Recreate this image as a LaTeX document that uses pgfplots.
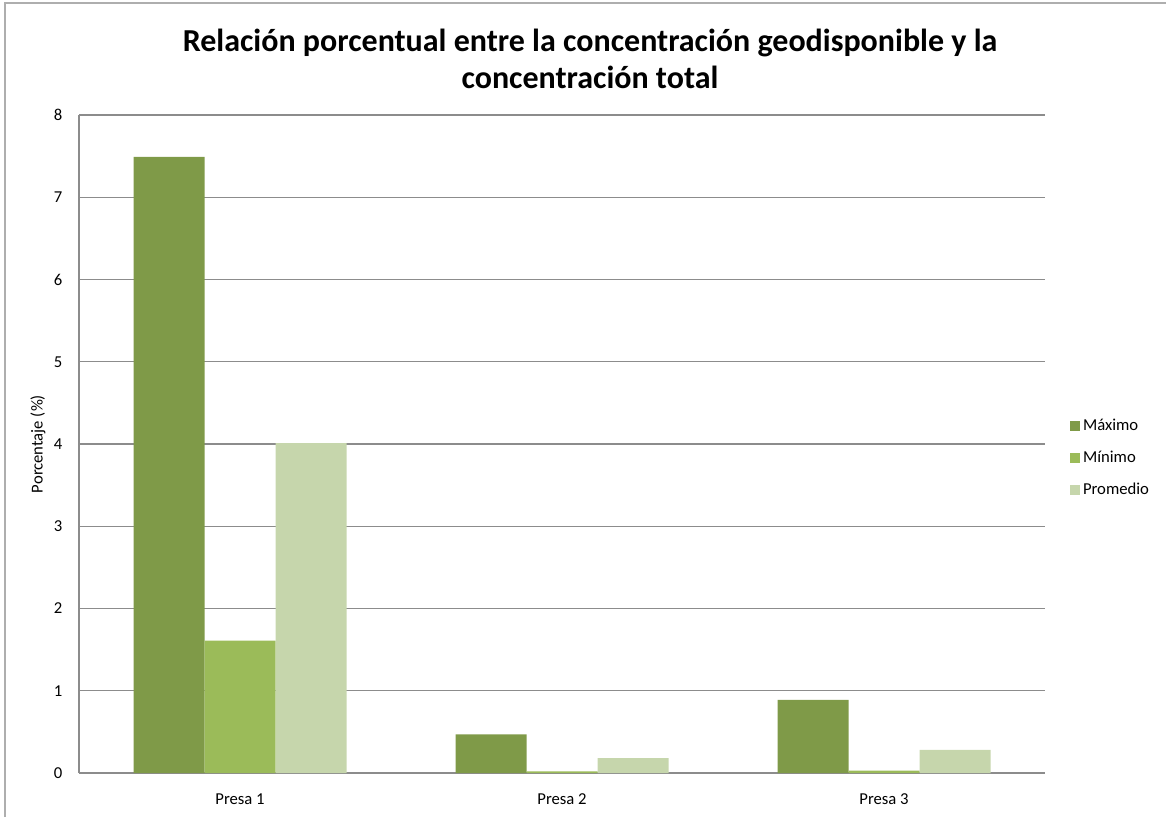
\documentclass[border=0pt]{standalone}
\usepackage{pgfplots}
\pgfplotsset{compat=1.18}
\usepackage{fontspec}
\setmainfont{Carlito}
\definecolor{cmax}{HTML}{7F9A48}
\definecolor{cmin}{HTML}{9BBB59}
\definecolor{cprom}{HTML}{C6D6AC}
\definecolor{cgrid}{HTML}{8C8C8C}

\begin{document}
\begin{tikzpicture}[x=0.75pt,y=0.75pt]
\useasboundingbox (0,0) rectangle (1166,817);
\draw[cgrid!70, line width=1.5pt] (5,0) -- (5,814) -- (1166,814);
\node[font=\bfseries\fontsize{24}{28}\selectfont, align=center, anchor=north] at (590,793)
  {Relación porcentual entre la concentración geodisponible y la\\concentración total};
\begin{axis}[
  at={(59.25pt,33pt)}, anchor=south west,
  scale only axis, width=724.5pt, height=493.5pt,
  ybar=0pt, bar width=53.25pt,
  xmin=-0.5, xmax=2.5, ymin=0, ymax=8,
  xtick={0,1,2}, xticklabels={Presa 1,Presa 2,Presa 3},
  ytick={0,...,8},
  axis lines*=left,
  axis line style={-, cgrid, line width=0.9pt},
  ymajorgrids, grid style={cgrid, line width=0.8pt},
  major tick length=0pt,
  tick label style={font=\fontsize{12.5}{14}\selectfont},
  yticklabel style={xshift=-9pt},
  xticklabel style={yshift=-12pt},
  /pgf/number format/assume math mode=true,
  ylabel={Porcentaje (\%)},
  ylabel style={font=\fontsize{12.5}{14}\selectfont, at={(axis description cs:-0.0424,0.5)}, anchor=center},
  legend style={at={(1.026,0.479)}, anchor=west, draw=none, fill=none,
    font=\fontsize{12.5}{14}\selectfont, row sep=10pt,
    legend cell align=left, inner sep=0pt},
  legend image code/.code={\fill[#1] (0pt,-3.75pt) rectangle (7.5pt,3.75pt);},
]
\addplot[fill=cmax, draw=none] coordinates {(0,7.49) (1,0.47) (2,0.89)};
\addlegendentry{Máximo}
\addplot[fill=cmin, draw=none] coordinates {(0,1.61) (1,0.02) (2,0.03)};
\addlegendentry{Mínimo}
\addplot[fill=cprom, draw=none] coordinates {(0,4.01) (1,0.18) (2,0.28)};
\addlegendentry{Promedio}
\end{axis}
\end{tikzpicture}
\end{document}
